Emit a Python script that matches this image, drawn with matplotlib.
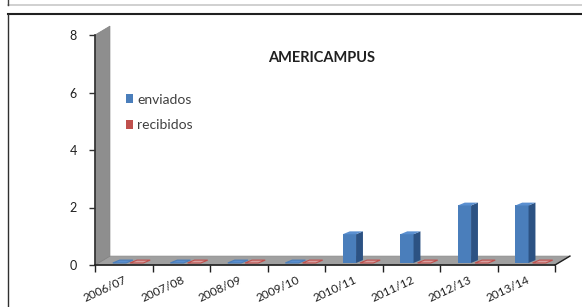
import matplotlib
matplotlib.use("Agg")
import matplotlib.pyplot as plt
from matplotlib.patches import Polygon, Patch
from matplotlib.lines import Line2D

categories = ["2006/07", "2007/08", "2008/09", "2009/10", "2010/11", "2011/12", "2012/13", "2013/14"]
enviados = [0, 0, 0, 0, 1, 1, 2, 2]
recibidos = [0, 0, 0, 0, 0, 0, 0, 0]
yticks = [0, 2, 4, 6, 8]
title = "AMERICAMPUS"

FONT = ["Lato", "DejaVu Sans"]
plt.rcParams['font.family'] = FONT

W, H = 582, 307
fig = plt.figure(figsize=(W / 100, H / 100), dpi=100)
fig.patch.set_facecolor("white")

def fx(px):
    return px / W

def fy(py):
    return 1 - py / H

ax = fig.add_axes([fx(95), fy(265), (555 - 95) / W, (265 - 35) / H])
ax.set_xlim(0, len(categories))
ax.set_ylim(0, 8)
ax.patch.set_alpha(0)

# 3D depth of walls
wdx, wdy = 0.26, 0.31
n = len(categories)
floor = Polygon([(0, 0), (n, 0), (n + wdx, wdy), (wdx, wdy)], closed=True,
                facecolor="#a0a0a0", edgecolor="#8a8a8a", lw=0.5, zorder=1, clip_on=False)
ax.add_patch(floor)
ax.plot([n, n + wdx], [0, wdy], color="#202020", lw=1.0, zorder=2, clip_on=False)
side = Polygon([(0, 0), (wdx, wdy), (wdx, 8 + wdy), (0, 8)], closed=True,
               facecolor="#8e8e8e", edgecolor="#808080", lw=0.5, zorder=1, clip_on=False)
ax.add_patch(side)

# bars
bdx, bdy = 0.12, 0.10
base = 0.07

def bar3d(x0, x1, v, front, sidec, topc, edge):
    b = base
    t = b + v
    if v > 0:
        ax.add_patch(Polygon([(x0, b), (x1, b), (x1, t), (x0, t)], closed=True,
                             facecolor=front, edgecolor="none", zorder=3, clip_on=False))
        ax.add_patch(Polygon([(x1, b), (x1 + bdx, b + bdy), (x1 + bdx, t + bdy), (x1, t)], closed=True,
                             facecolor=sidec, edgecolor="none", zorder=3, clip_on=False))
        ax.add_patch(Polygon([(x0, t), (x1, t), (x1 + bdx, t + bdy), (x0 + bdx, t + bdy)], closed=True,
                             facecolor=topc, edgecolor="none", zorder=3, clip_on=False))
    else:
        ax.add_patch(Polygon([(x0, t), (x1, t), (x1 + bdx, t + bdy), (x0 + bdx, t + bdy)], closed=True,
                             facecolor=topc, edgecolor=edge, lw=0.8, zorder=3, clip_on=False))

for i, (e, r) in enumerate(zip(enviados, recibidos)):
    bar3d(i + 0.31, i + 0.54, e, "#4a7ebb", "#2c5283", "#5a8fd0", "#4a7ebb")
    bar3d(i + 0.61, i + 0.84, r, "#c0504d", "#8c3836", "#d8a0a0", "#c0504d")

# axes styling
for s in ["top", "right"]:
    ax.spines[s].set_visible(False)
ax.spines["left"].set_color("#303030")
ax.spines["bottom"].set_color("#202020")
ax.spines["left"].set_linewidth(1.2)
ax.spines["bottom"].set_linewidth(1.2)
ax.spines["left"].set_zorder(2.5)
ax.set_yticks(yticks)
ax.set_yticklabels([str(v) for v in yticks], fontsize=9, color="#202020")
ax.tick_params(axis="y", length=4, width=1, color="#303030", pad=9)
ax.set_xticks(range(n + 1))
ax.set_xticklabels([])
ax.tick_params(axis="x", which="major", length=5, width=1, color="#202020", direction="out")
ax.set_xticks([i + 0.5 for i in range(n)], minor=True)
ax.set_xticklabels(categories, minor=True, rotation=25, ha="right", rotation_mode="anchor",
                   fontsize=8.5, color="#202020")
ax.tick_params(axis="x", which="minor", length=0, pad=7)

# title
fig.text(fx(322), fy(58), title, fontsize=10.5, fontweight="bold", ha="center", va="center",
         color="#202020", family=FONT)

# legend
handles = [Patch(facecolor="#4a7ebb", edgecolor="none", label="enviados"),
           Patch(facecolor="#c0504d", edgecolor="none", label="recibidos")]
fig.legend(handles=handles, loc="upper left", bbox_to_anchor=(fx(120), fy(88)),
           frameon=False, fontsize=10, handlelength=0.55, handleheight=0.55,
           handletextpad=0.3, labelspacing=1.0, borderaxespad=0, labelcolor="#404040")

# chart frame borders
fig.add_artist(Line2D([fx(8), 1], [fy(5), fy(5)], color="#c8c8c8", lw=1.2))
fig.add_artist(Line2D([fx(8), fx(8)], [1, fy(5)], color="#404040", lw=1.0))
fig.add_artist(Line2D([fx(8), 1], [fy(14), fy(14)], color="#202020", lw=1.5))
fig.add_artist(Line2D([fx(8), fx(8)], [fy(14), 0], color="#303030", lw=1.0))

fig.savefig("out.png", dpi=100)
